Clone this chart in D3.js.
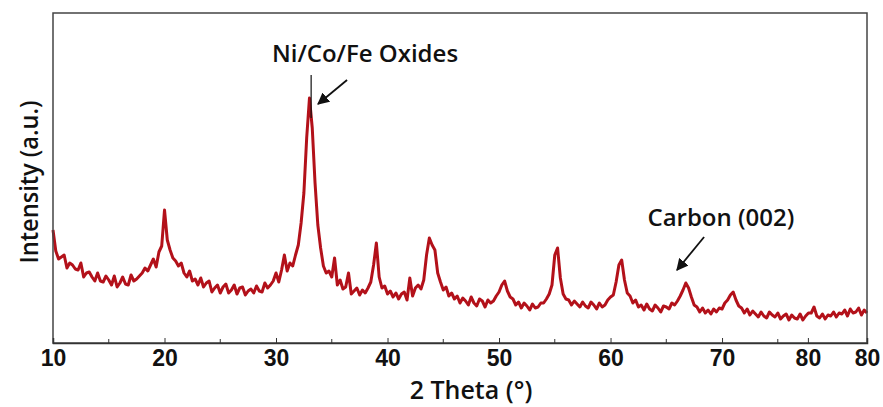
<!DOCTYPE html>
<html>
<head>
<meta charset="utf-8">
<script src="https://cdn.jsdelivr.net/npm/d3@7"></script>
<style>
  body { margin: 0; background: #fff; }
  svg { display: block; font-family: 'Open Sans', sans-serif; }
</style>
</head>
<body>
<svg id="chart" width="883" height="407"></svg>
<script>
// 2 theta range of the scan, step between points
const thetaStart = 10;
const thetaStep = 0.25;

// intensity (a.u.), one value per 0.25 deg from 10 to 83
const intensity = [
  113, 92, 84, 86, 88, 75, 80, 78, 74, 73, 80, 66, 70, 71, 66, 62,
  70, 62, 61, 67, 63, 58, 67, 56, 60, 66, 59, 58, 68, 62, 64, 67,
  70, 75, 72, 78, 84, 76, 91, 97, 133, 103, 93, 85, 82, 77, 80, 70,
  66, 72, 62, 64, 58, 65, 56, 60, 62, 51, 55, 58, 50, 56, 59, 50,
  53, 58, 49, 55, 56, 48, 52, 54, 50, 57, 52, 51, 60, 55, 58, 62,
  70, 61, 73, 88, 72, 80, 77, 88, 98, 120, 150, 205, 245, 215, 160, 118,
  95, 77, 70, 72, 66, 85, 58, 63, 54, 56, 70, 49, 52, 55, 48, 53,
  50, 55, 61, 78, 100, 66, 55, 57, 49, 52, 46, 50, 44, 49, 51, 43,
  65, 47, 55, 58, 54, 63, 88, 105, 98, 93, 70, 61, 53, 56, 47, 50,
  44, 47, 40, 45, 42, 38, 46, 40, 37, 44, 42, 36, 43, 40, 42, 47,
  51, 58, 62, 52, 46, 44, 38, 41, 35, 40, 37, 33, 39, 35, 36, 40,
  40, 44, 49, 58, 88, 95, 65, 49, 44, 43, 38, 42, 39, 36, 41, 37,
  35, 41, 38, 34, 40, 36, 38, 43, 46, 48, 61, 78, 83, 63, 50, 47,
  40, 43, 36, 38, 33, 39, 34, 32, 38, 35, 31, 37, 36, 34, 40, 38,
  42, 47, 53, 60, 55, 46, 38, 36, 31, 35, 30, 33, 29, 34, 31, 35,
  34, 40, 43, 48, 51, 43, 37, 35, 30, 34, 28, 32, 29, 26, 31, 27,
  25, 31, 28, 26, 30, 24, 27, 29, 23, 28, 25, 24, 29, 23, 27, 30,
  30, 36, 27, 25, 29, 24, 28, 27, 31, 26, 30, 29, 33, 27, 34, 30,
  31, 35, 28, 33, 30
];

// axis ticks (the original figure labels its last two ticks "80")
const xTickValues = [10, 20, 30, 40, 50, 60, 70, 77.7, 83];
const xTickLabels = ['10', '20', '30', '40', '50', '60', '70', '80', '80'];
const xMinorTicks = [15, 25, 35, 45, 55, 65, 75];

// annotations: text anchor and arrows in data units [theta, intensity]
const labels = [
  { text: 'Ni/Co/Fe Oxides', at: [37.98, 281] },
  { text: 'Carbon (002)', at: [69.9, 117] },
];
const arrows = [
  { from: [36.37, 263], to: [33.77, 239] },
  { from: [68.39, 106], to: [65.96, 73] },
];
const peakMarker = { theta: 33.15, from: 225, to: 268 };

const svg = d3.select('#chart');
const margin = { top: 13, right: 16, bottom: 64, left: 53 };
const width = 883;
const height = 407;

const x = d3
  .scaleLinear()
  .domain([10, 83])
  .range([margin.left, width - margin.right]);
const y = d3
  .scaleLinear()
  .domain([0, 330])
  .range([height - margin.bottom, margin.top]);

const data = intensity.map((v, i) => [thetaStart + i * thetaStep, v]);

svg
  .append('defs')
  .append('marker')
  .attr('id', 'head')
  .attr('viewBox', '0 0 10 10')
  .attr('refX', 9)
  .attr('refY', 5)
  .attr('markerWidth', 12)
  .attr('markerHeight', 12)
  .attr('markerUnits', 'userSpaceOnUse')
  .attr('orient', 'auto')
  .append('path')
  .attr('d', 'M0,0 L10,5 L0,10 z')
  .attr('fill', '#111');

// the pattern
const line = d3
  .line()
  .x((d) => x(d[0]))
  .y((d) => y(d[1]));

svg
  .append('path')
  .datum(data)
  .attr('d', line)
  .attr('fill', 'none')
  .attr('stroke', '#b3111a')
  .attr('stroke-width', 3)
  .attr('stroke-linejoin', 'round');

// frame
svg
  .append('rect')
  .attr('x', x.range()[0])
  .attr('y', y.range()[1])
  .attr('width', x.range()[1] - x.range()[0])
  .attr('height', y.range()[0] - y.range()[1])
  .attr('fill', 'none')
  .attr('stroke', '#444')
  .attr('stroke-width', 1.5);

// x axis, ticks pointing inward
const xAxis = svg
  .append('g')
  .attr('transform', `translate(0,${y.range()[0]})`)
  .call(
    d3
      .axisBottom(x)
      .tickValues(xTickValues)
      .tickFormat((d, i) => xTickLabels[i])
      .tickSize(-5)
      .tickPadding(7),
  );
xAxis.select('.domain').attr('stroke', '#333').attr('stroke-width', 1.5);
xAxis.selectAll('.tick line').attr('stroke', '#333');
xAxis
  .selectAll('.tick text')
  .attr('fill', '#111')
  .style('font-size', '23px')
  .style('font-weight', 700);

svg
  .append('g')
  .selectAll('line')
  .data(xMinorTicks)
  .join('line')
  .attr('x1', (d) => x(d))
  .attr('x2', (d) => x(d))
  .attr('y1', y.range()[0])
  .attr('y2', y.range()[0] - 4)
  .attr('stroke', '#333');

// axis titles
svg
  .append('text')
  .attr('x', 471)
  .attr('y', 399)
  .attr('text-anchor', 'middle')
  .attr('fill', '#111')
  .style('font-size', '25px')
  .style('font-weight', 600)
  .text('2 Theta (°)');

svg
  .append('text')
  .attr('transform', 'translate(38,182) rotate(-90)')
  .attr('text-anchor', 'middle')
  .attr('textLength', 163)
  .attr('lengthAdjust', 'spacingAndGlyphs')
  .attr('fill', '#111')
  .style('font-size', '26px')
  .style('font-weight', 600)
  .text('Intensity (a.u.)');

// annotations
svg
  .append('line')
  .attr('x1', x(peakMarker.theta))
  .attr('x2', x(peakMarker.theta))
  .attr('y1', y(peakMarker.from))
  .attr('y2', y(peakMarker.to))
  .attr('stroke', '#111')
  .attr('stroke-width', 1.2);

svg
  .append('g')
  .selectAll('line')
  .data(arrows)
  .join('line')
  .attr('x1', (d) => x(d.from[0]))
  .attr('y1', (d) => y(d.from[1]))
  .attr('x2', (d) => x(d.to[0]))
  .attr('y2', (d) => y(d.to[1]))
  .attr('stroke', '#111')
  .attr('stroke-width', 1.8)
  .attr('marker-end', 'url(#head)');

svg
  .append('g')
  .selectAll('text')
  .data(labels)
  .join('text')
  .attr('x', (d) => x(d.at[0]))
  .attr('y', (d) => y(d.at[1]))
  .attr('text-anchor', 'middle')
  .attr('fill', '#111')
  .style('font-size', '24px')
  .style('font-weight', 600)
  .text((d) => d.text);
</script>
</body>
</html>
